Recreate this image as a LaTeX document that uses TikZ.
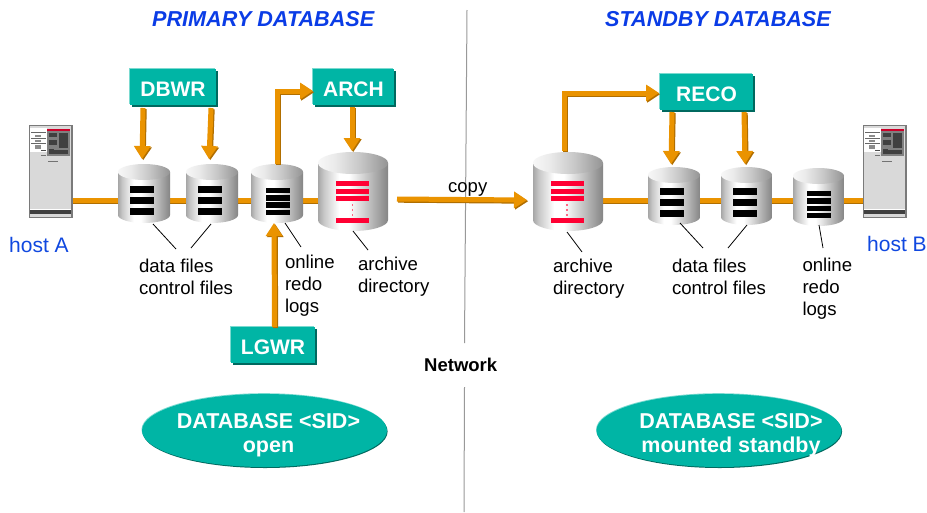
\documentclass[tikz,border=0pt]{standalone}
\usepackage{fontspec}
\setmainfont{Liberation Sans}
\usetikzlibrary{calc,arrows.meta,shapes.geometric,shadows}
\definecolor{teal1}{HTML}{00B5A5}
\definecolor{tealhi}{HTML}{7ADAD0}
\definecolor{teald}{HTML}{00695F}
\definecolor{or1}{HTML}{EA9300}
\definecolor{or2}{HTML}{B06E00}
\definecolor{hblue}{HTML}{1048E0}
\definecolor{tblue}{HTML}{0A3CE6}
\definecolor{redb}{HTML}{FF0033}
\pgfdeclarehorizontalshading{cylbody}{100bp}{color(0bp)=(black!35); color(25bp)=(black!35); color(29bp)=(black!22); color(40bp)=(white); color(47bp)=(white); color(75bp)=(black!48); color(100bp)=(black!48)}
\pgfdeclarehorizontalshading{cyltop}{100bp}{color(0bp)=(black!3); color(25bp)=(black!3); color(37bp)=(black!8); color(55bp)=(black!22); color(75bp)=(black!42); color(100bp)=(black!42)}
\tikzset{
  x=1pt,y=-1pt,
  anchorbox/.style={rectangle,inner sep=0pt,outer sep=0pt},
  txt/.style={font=\fontsize{18.6}{22}\selectfont,text=black,inner sep=0pt,outer sep=0pt,align=left,anchor=north west},
  hosttxt/.style={font=\fontsize{21}{24}\selectfont,text=hblue,inner sep=0pt,anchor=base west},
  titletxt/.style={font=\fontsize{21.6}{24}\selectfont\bfseries\itshape,text=tblue,inner sep=0pt,anchor=base west},
  procbox/.style={rectangle,fill=teal1,text=white,font=\fontsize{21}{24}\selectfont\bfseries,inner sep=0pt,outer sep=0pt,
    anchor=north west,align=center,text height=27.3pt,text depth=8.7pt,
    general shadow={fill=tealhi,shadow xshift=-.6pt,shadow yshift=.8pt},
    general shadow={fill=teald,shadow xshift=2pt,shadow yshift=-2pt}},
  dbell/.style={ellipse,fill=teal1,inner sep=0pt,outer sep=0pt,minimum width=245pt,minimum height=73pt,
    general shadow={fill=tealhi,shadow xshift=-.5pt,shadow yshift=.8pt},
    general shadow={fill=teald,shadow xshift=.6pt,shadow yshift=-1pt}},
  dbtxt/.style={font=\fontsize{21.5}{24}\selectfont\bfseries,text=white,align=center,inner sep=0pt,outer sep=0pt},
  oarrow/.style={draw=or1,line width=5pt,-{Triangle[length=13pt,width=16pt]},
    preaction={draw=or2,line width=5pt,-{Triangle[length=13pt,width=16pt]},transform canvas={shift={(1.2pt,-1.2pt)}}}},
  pipe/.style={draw=or1,line width=4.5pt,
    preaction={draw=or2,line width=4.5pt,transform canvas={shift={(0pt,-1.5pt)}}}},
  leader/.style={draw=black,line width=.8pt},
  netline/.style={draw=black!40,line width=1pt},
}
% \cyl{name}{x1}{x2}{top}{bottom}{ry}
\newcommand{\cyl}[6]{%
  \pgfmathsetmacro{\cxx}{(#2+#3)/2}\pgfmathsetmacro{\rxx}{(#3-#2)/2}
  \pgfmathsetmacro{\cyy}{(#4+#5)/2}\pgfmathsetmacro{\ww}{#3-#2}\pgfmathsetmacro{\hh}{#5-#4}
  \pgfmathsetmacro{\ytop}{#4+#6}\pgfmathsetmacro{\ybot}{#5-#6}
  \path[shading=cylbody] (#2,\ytop) -- (#2,\ybot)
     arc[start angle=180,end angle=360,x radius=\rxx pt,y radius=#6pt] -- (#3,\ytop) -- cycle;
  \path[shading=cyltop] (\cxx,\ytop) ellipse[x radius=\rxx pt,y radius=#6pt];
  \node[anchorbox,minimum width=\ww pt,minimum height=\hh pt] (#1) at (\cxx,\cyy) {};
}
% \barz{x1}{x2}{height}{list of y}
\newcommand{\barz}[4]{\foreach \yy in {#4} {\fill[black] (#1,\yy) rectangle (#2,\yy+#3);}}
\newcommand{\hostbox}[2]{%
 \begin{scope}[shift={(#2,125)}]
  \fill[black!52] (0,0) rectangle (43.5,93);
  \fill[black!15] (1.2,1.2) rectangle (42.3,91.8);
  \fill[white] (1.2,3) rectangle (18,27);
  \fill[black!50] (18,6) rectangle (41,31);
  \fill[redb!80!black] (18,4) rectangle (41,6.3);
  \fill[black!75] (20,8) rectangle (28,12);
  \fill[black!75] (20,15) rectangle (28,20);
  \fill[black!75] (30,8) rectangle (39,23);
  \fill[black!75] (20,24) rectangle (25,26);
  \fill[black!75] (20,25) rectangle (39,29);
  \fill[black!60] (2,7) rectangle (17,8);
  \fill[black!60] (2,13) rectangle (17,14);
  \fill[black!60] (2,18) rectangle (17,19);
  \fill[black!45] (6,9.5) rectangle (12,11.5);
  \fill[black!45] (6,15) rectangle (12,16.5);
  \fill[black!45] (6,20) rectangle (12,24);
  \fill[black!70] (12,24.5) rectangle (17,25.3);
  \fill[black!55] (12,30) rectangle (17,30.8);
  \fill[black!55] (19,36) rectangle (29,36.8);
  \fill[white] (1.2,84) rectangle (42.3,85);
  \fill[black!75] (1.2,85) rectangle (42.3,88.5);
 \end{scope}
 \node[anchorbox,minimum width=43.5pt,minimum height=93pt] (#1) at (#2+21.75,171.5) {};
}
\begin{document}
\begin{tikzpicture}
\useasboundingbox (0,0) rectangle (927,512);
\fill[white] (0,0) rectangle (927,512);
% network divider
\coordinate (n1) at (467,10); \coordinate (n2) at (464.5,343);
\coordinate (n3) at (464.5,387); \coordinate (n4) at (464,512);
\draw[netline] (n1) -- (n2);
\draw[netline] (n3) -- (n4);
\node[font=\fontsize{18.5}{22}\selectfont\bfseries,inner sep=0pt,anchor=base west] (net) at (424,371) {Network};
% titles
\node[titletxt] (tp) at (152,26) {PRIMARY DATABASE};
\node[titletxt] (ts) at (605,26) {STANDBY DATABASE};
% hosts
\hostbox{hosta}{29}
\hostbox{hostb}{863}
\node[hosttxt] (la) at (9,252) {host A};
\node[hosttxt] (lb) at (867,251) {host B};
% pipe
\coordinate (bb) at (0,200.5);
\coordinate (c4c) at (353,200.5);
\coordinate (c5c) at (568,200.5);
\draw[pipe] (hosta.east |- bb) -- (c4c);
\draw[pipe] (c5c) -- (hostb.west |- bb);
% cylinders
\cyl{c1}{118}{170}{164}{223}{8}
\cyl{c2}{186}{238}{164}{223}{8}
\cyl{c3}{251}{303}{164}{223}{8}
\cyl{c4}{318}{388}{152}{231}{11}
\cyl{c5}{533}{603}{152}{231}{11}
\cyl{c6}{648}{700}{167}{225}{8}
\cyl{c7}{721}{772}{167}{225}{8}
\cyl{c8}{793}{844}{168}{226}{8}
\barz{130}{154}{7}{186,197,208}
\barz{198}{222}{7}{186,197,208}
\barz{266}{290}{5.4}{188,195.2,202.4,209.6}
\barz{660}{684}{7}{188,199,210}
\barz{733}{757}{7}{188,199,210}
\barz{807}{831}{5.4}{191,198.3,205.6,212.9}
\foreach \xa/\xb/\xd in {336/369/352.5,551/584/567} {
  \foreach \yy in {181,189,196,218} {\fill[redb] (\xa,\yy) rectangle (\xb,\yy+5);}
  \foreach \yy in {205,210,215} {\fill[redb!60] (\xd-.6,\yy-.6) rectangle (\xd+.6,\yy+.6);}
}
% process boxes
\node[procbox,text width=86pt] (dbwr) at (130,69) {DBWR};
\node[procbox,text width=81pt] (arch) at (313,69) {ARCH};
\node[procbox,text width=93pt] (reco) at (660,74) {RECO};
\node[procbox,text width=84pt] (lgwr) at (231,327) {LGWR};
% arrows
\draw[oarrow] ($(dbwr.south west)+(13,3)$) -- ($(c1.north)+(-2,-5)$);
\draw[oarrow] ($(dbwr.south west)+(81,3)$) -- ($(c2.north)+(-3,-5)$);
\draw[oarrow] (c3.north) -- ++(0,-73) -- ($(arch.west)+(0,4)$);
\draw[oarrow] ($(lgwr.north)+(1.5,0)$) -- ($(c3.south)+(-3,0)$);
\draw[oarrow] ($(arch.south west)+(39,2)$) -- ($(c4.north)+(-1,-1)$);
\draw[oarrow] ($(c4.east)+(9,7.5)$) -- ($(c5.west)+(-6,8.5)$);
\draw[oarrow] ($(c5.north)+(-4,-1)$) -- ++(0,-58) -- ($(reco.west)+(-1,1)$);
\draw[oarrow] ($(reco.south west)+(12,2)$) -- ($(c6.north)+(-3,-3)$);
\draw[oarrow] ($(reco.south west)+(84,2)$) -- ($(c7.north)+(-1.5,-3)$);
% labels
\node[txt] (l1) at (139,259) {data files\\control files};
\node[txt] (l2) at (285,255) {online\\redo\\logs};
\node[txt] (l3) at (358,257) {archive\\directory};
\node[txt] (l4) at (553,259) {archive\\directory};
\node[txt] (l5) at (672,259) {data files\\control files};
\node[txt] (l6) at (802.5,258) {online\\redo\\logs};
\node[font=\fontsize{18.5}{22}\selectfont,inner sep=0pt,anchor=base west] (cp) at (448,192) {copy};
% leaders
\draw[leader] ($(c1.south)+(9,1)$) -- ($(l1.north west)+(37,-10)$);
\draw[leader] ($(c2.south)+(-1,1)$) -- ($(l1.north west)+(52,-11)$);
\draw[leader] (c3.south) ++(8,0) -- ($(l2.north west)+(16,-8)$);
\draw[leader] ($(c4.south)+(0,0)$) -- ($(l3.north west)+(10,-7)$);
\draw[leader] ($(c5.south)+(-1,1)$) -- ($(l4.north west)+(29,-7)$);
\draw[leader] ($(c6.south)+(6,-2)$) -- ($(l5.north west)+(31,-11)$);
\draw[leader] ($(c7.south)+(0.5,0)$) -- ($(l5.north west)+(56,-11)$);
\draw[leader] ($(c8.south)+(0.5,-1)$) -- ($(l6.north west)+(20.5,-10)$);
% database ellipses
\node[dbell] (e1) at (264.5,430.5) {};
\node[dbell] (e2) at (719,430.5) {};
\node[dbtxt] (t1) at (268.5,435) {DATABASE <SID>\\open};
\node[dbtxt] (t2) at (731,435) {DATABASE <SID>\\mounted standby};
\end{tikzpicture}
\end{document}
